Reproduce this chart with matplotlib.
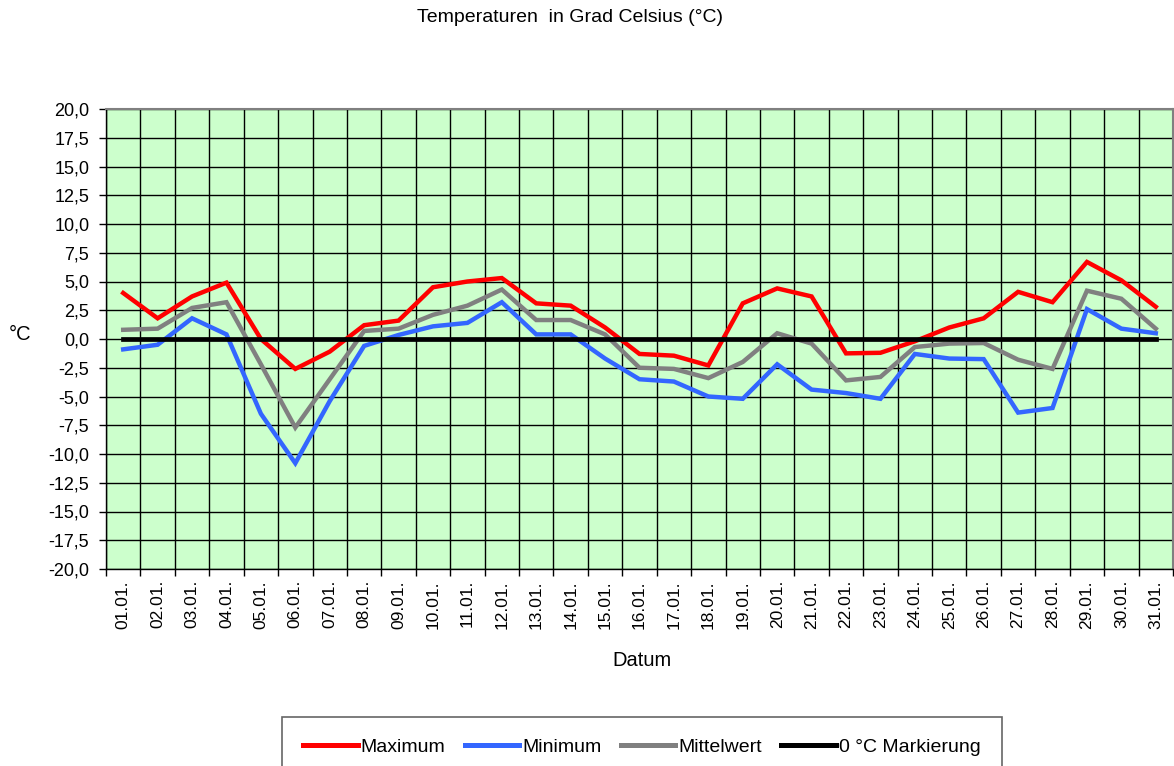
import numpy as np
import matplotlib
matplotlib.use("Agg")
import matplotlib.pyplot as plt
from matplotlib.ticker import FixedLocator, FuncFormatter

plt.rcParams["font.family"] = ["Liberation Sans", "DejaVu Sans"]

dates = [f"{d:02d}.01." for d in range(1, 32)]

maximum = [4.0, 1.8, 3.7, 4.9, 0.0, -2.6, -1.1, 1.2, 1.6, 4.5,
           5.0, 5.3, 3.1, 2.9, 1.0, -1.3, -1.45, -2.3, 3.1, 4.4,
           3.7, -1.25, -1.2, -0.2, 1.0, 1.8, 4.1, 3.2, 6.7, 5.1, 2.8]
minimum = [-0.9, -0.5, 1.8, 0.4, -6.5, -10.8, -5.4, -0.6, 0.35, 1.1,
           1.4, 3.2, 0.4, 0.4, -1.7, -3.5, -3.7, -5.0, -5.2, -2.2,
           -4.4, -4.7, -5.2, -1.3, -1.7, -1.75, -6.4, -6.0, 2.6, 0.9, 0.5]
mittelwert = [0.8, 0.9, 2.7, 3.2, -2.2, -7.7, -3.5, 0.7, 0.9, 2.1,
              2.9, 4.3, 1.65, 1.65, 0.4, -2.5, -2.6, -3.4, -2.0, 0.5,
              -0.4, -3.6, -3.3, -0.7, -0.4, -0.35, -1.8, -2.6, 4.2, 3.5, 0.9]
null_linie = [0.0] * 31

W, H = 1174, 766
fig = plt.figure(figsize=(W / 100, H / 100), dpi=100)
ax = fig.add_axes([106 / W, 1 - 569 / H, 1067 / W, 460 / H])
ax.set_facecolor("#CCFFCC")

x = np.arange(len(dates)) + 0.5
ax.plot(x, maximum, color="#FF0000", lw=3.2, solid_joinstyle="miter", label="Maximum")
ax.plot(x, minimum, color="#3366FF", lw=3.2, solid_joinstyle="miter", label="Minimum")
ax.plot(x, mittelwert, color="#808080", lw=3.2, solid_joinstyle="miter", label="Mittelwert")
ax.plot(x, null_linie, color="#000000", lw=3.4, label="0 °C Markierung")

ax.set_xlim(0, len(dates))
ax.set_ylim(-20, 20)

ax.yaxis.set_major_locator(FixedLocator(np.arange(-20, 20.1, 2.5)))
ax.yaxis.set_major_formatter(FuncFormatter(lambda v, p: f"{v:.1f}".replace(".", ",")))
ax.xaxis.set_major_locator(FixedLocator(np.arange(0, len(dates) + 1)))
ax.xaxis.set_major_formatter(FuncFormatter(lambda v, p: ""))
ax.set_xticks(x, minor=True)
ax.set_xticklabels(dates, minor=True, rotation=90, fontsize=12.5)
ax.tick_params(axis="x", which="minor", length=0, pad=8)
ax.tick_params(axis="x", which="major", length=5, width=1.0, direction="out")
ax.tick_params(axis="y", length=5, width=1.0, direction="out", labelsize=13, pad=7)

ax.grid(True, which="major", color="black", lw=1.0)
ax.set_axisbelow(True)
for side in ["top", "right"]:
    ax.spines[side].set_color("#808080")
    ax.spines[side].set_linewidth(1.5)
for side in ["left", "bottom"]:
    ax.spines[side].set_color("black")
    ax.spines[side].set_linewidth(1.0)

fig.text(570 / W, 1 - 17 / H, "Temperaturen  in Grad Celsius (°C)", ha="center", va="center",
         fontsize=14)
fig.text(20 / W, 1 - 335 / H, "°C", ha="center", va="center", fontsize=14.5)
fig.text(642 / W, 1 - 660 / H, "Datum", ha="center", va="center", fontsize=14.5)

leg = fig.legend(loc="upper center", bbox_to_anchor=(642 / W, 1 - 717 / H), ncol=4,
                 fontsize=14, frameon=True, fancybox=False, edgecolor="#404040",
                 handlelength=2.8, handletextpad=0.15, columnspacing=1.0,
                 borderpad=1.1, borderaxespad=0)
leg.get_frame().set_linewidth(1.2)
for line in leg.get_lines():
    line.set_linewidth(3.6)

fig.savefig("out.png", dpi=100)
